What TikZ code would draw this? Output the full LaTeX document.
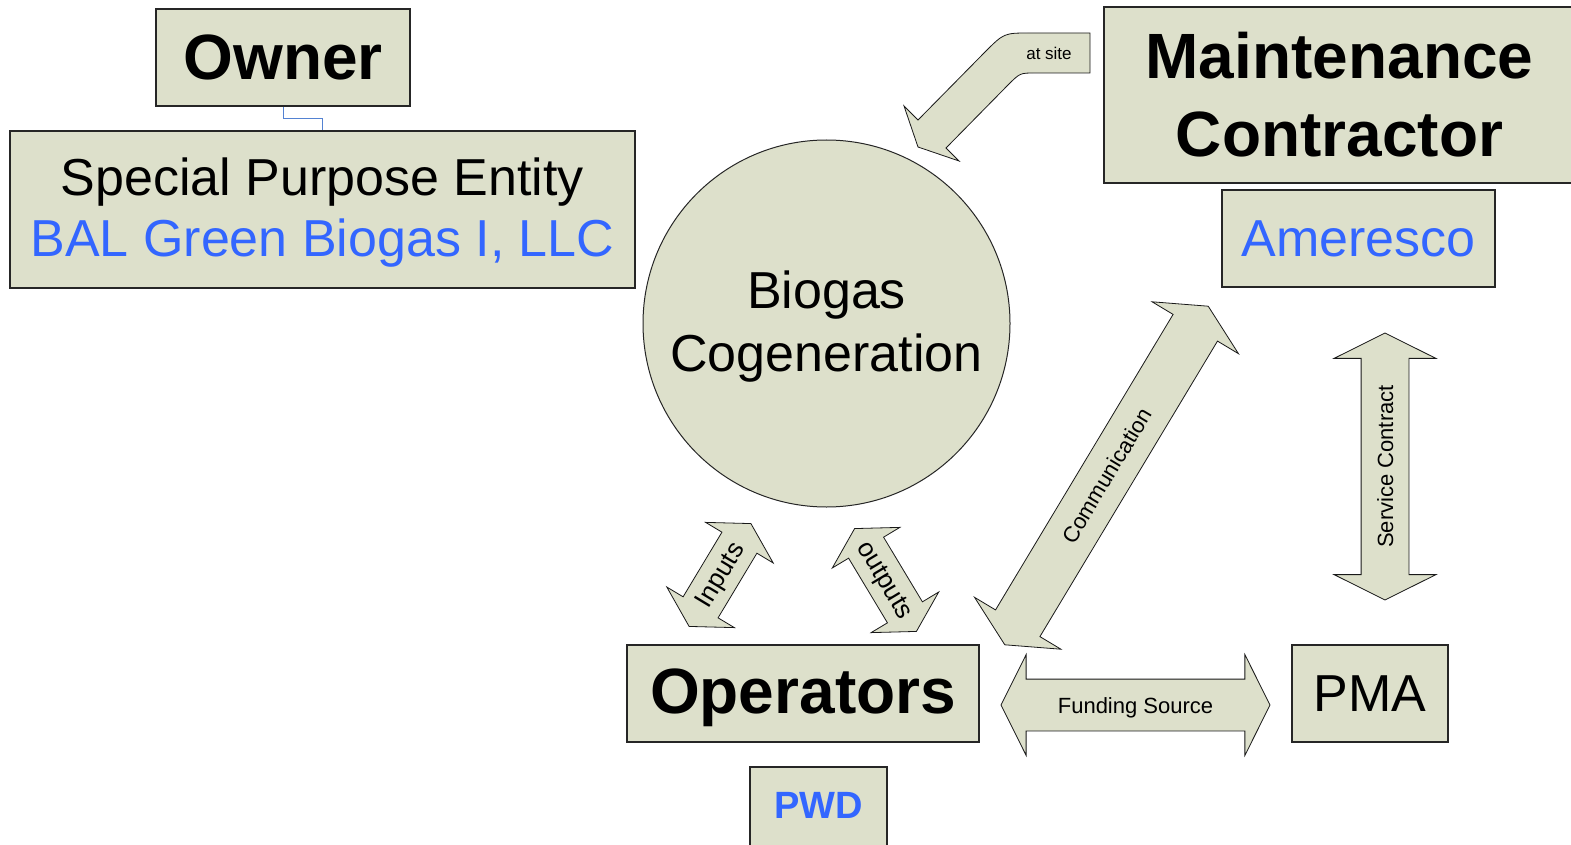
\documentclass[tikz,border=0pt]{standalone}
\usepackage{fontspec}
\setmainfont{Liberation Sans}
\usepackage{tikz}
\usetikzlibrary{calc,shapes.arrows}

\definecolor{boxfill}{RGB}{221,224,203}
\definecolor{textblue}{RGB}{51,102,255}
\definecolor{linkblue}{RGB}{84,130,210}

\tikzset{
	box/.style={rectangle, draw=black!85, line width=1.2pt, fill=boxfill, inner sep=0pt, align=center},
	arrowline/.style={draw=black!90, line width=0.8pt, line join=miter},
	bigarrow/.style={double arrow, arrowline, fill=boxfill,
		double arrow head extend=24.5pt, double arrow tip angle=127,
		inner xsep=0pt, inner ysep=0pt,
		font=\fontsize{22}{26}\selectfont},
	smallarrow/.style={bigarrow, double arrow head extend=19pt, double arrow tip angle=121,
		font=\fontsize{26}{30}\selectfont},
}

\begin{document}
\begin{tikzpicture}[x=1pt,y=-1pt]

	\useasboundingbox (0,0) rectangle (1571,845);

	% the parties, placed at the coordinates of the slide (y runs down)
	\node[box, minimum width=254pt, minimum height=97pt,
		font=\fontsize{64}{77}\selectfont\bfseries] (owner) at (283,57.5) {Owner};
	\node[box, minimum width=625pt, minimum height=157pt,
		font=\fontsize{52}{61}\selectfont] (spe) at (322.5,209.5)
		{\rule{0pt}{44pt}Special Purpose Entity\\\textcolor{textblue}{BAL Green Biogas I, LLC}};

	\node[circle, draw=black!85, line width=1pt, fill=boxfill, minimum size=367pt,
		inner sep=0pt, align=center, font=\fontsize{52}{63}\selectfont]
		(plant) at (826.5,323.5) {\rule{0pt}{43pt}Biogas\\Cogeneration};

	\node[box, minimum width=471pt, minimum height=176pt,
		font=\fontsize{64}{78}\selectfont\bfseries] (maint) at (1339.5,95) {Maintenance\\Contractor};
	\node[box, minimum width=273pt, minimum height=97pt, text=textblue,
		font=\fontsize{52}{61}\selectfont] (ameresco) at (1358.5,238.5) {Ameresco};

	\node[box, minimum width=352pt, minimum height=97pt, text depth=5pt,
		font=\fontsize{64}{77}\selectfont\bfseries] (operators) at (803,693.5) {Operators};
	\node[box, minimum width=137pt, minimum height=97pt, text depth=21pt, text=textblue,
		font=\fontsize{38}{46}\selectfont\bfseries] (pwd) at (818.5,815.5) {PWD};
	\node[box, minimum width=156pt, minimum height=97pt,
		font=\fontsize{52}{61}\selectfont] (pma) at (1370,693.5) {PMA};

	% owner -> SPE
	\draw[linkblue, line width=1pt] (owner.south) |- ($(owner.south)!.5!(spe.north)$) -| (spe.north);

	% block arrows
	\node[bigarrow, minimum height=269pt, text height=33.5pt, text depth=17.5pt]
		(funding) at (1135.5,705) {Funding Source};
	\node[bigarrow, rotate=90, minimum height=267pt, double arrow head extend=27pt,
		text height=31.5pt, text depth=15.5pt]
		(service) at (1385,466.5) {Service Contract};
	\node[bigarrow, rotate=59, minimum height=395pt, text height=33.5pt, text depth=17.5pt]
		(comm) at (1106.5,475.5) {Communication};

	\node[smallarrow, rotate=59, minimum height=120pt, text height=28pt, text depth=12pt]
		(inputs) at (720,575) {\makebox[0pt]{Inputs}};
	\node[smallarrow, rotate=-59, minimum height=120pt, text height=28pt, text depth=12pt]
		(outputs) at (885.5,580) {\makebox[0pt]{outputs}};

	% bent arrow from the contractor down to the plant
	\draw[arrowline, fill=boxfill] (1090,33) -- (1030,33) .. controls (1004,33) .. (985,52)
		-- (918,120) -- (904,106) -- (918,147) -- (959,161) -- (946,148)
		-- (1008,85) .. controls (1020,73) .. (1035,73) -- (1090,73) -- cycle;
	\node[font=\fontsize{17}{20}\selectfont] (atsite) at (1049,53) {at site};

\end{tikzpicture}
\end{document}
